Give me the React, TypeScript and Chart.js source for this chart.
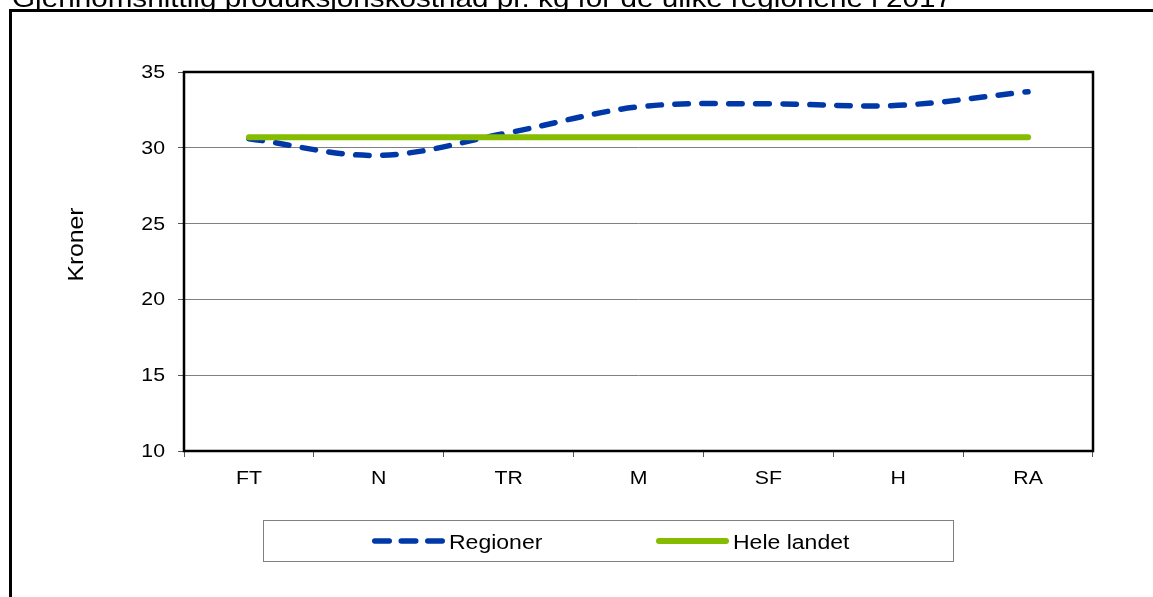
import React, { useEffect, useRef } from "react";
import { Chart, registerables } from "chart.js";

Chart.register(...registerables);

const titleText = "Gjennomsnittlig produksjonskostnad pr. kg for de ulike regionene i 2017";
const yAxisTitle = "Kroner";
const categories = ["FT", "N", "TR", "M", "SF", "H", "RA"];
const seriesLabels = ["Regioner", "Hele landet"];
const regionValues = [30.6, 29.5, 31.0, 32.7, 32.9, 32.8, 33.7];
const nationalValues = [30.7, 30.7, 30.7, 30.7, 30.7, 30.7, 30.7];
const yTickValues = [10, 15, 20, 25, 30, 35];

const BLUE = "#0038A8";
const GREEN = "#86BC00";
const STRETCH = 1.15;
const FONT = "'Liberation Sans', Arial, sans-serif";

function stretchedText(
  ctx: CanvasRenderingContext2D,
  text: string,
  x: number,
  y: number,
  size: number,
  align: CanvasTextAlign,
  baseline: CanvasTextBaseline,
  rotate = 0
) {
  ctx.save();
  ctx.translate(x, y);
  if (rotate) ctx.rotate(rotate);
  ctx.scale(STRETCH, 1);
  ctx.font = `${size}px ${FONT}`;
  ctx.fillStyle = "#000";
  ctx.textAlign = align;
  ctx.textBaseline = baseline;
  ctx.fillText(text, 0, 0);
  ctx.restore();
}

const framePlugin = {
  id: "framePlugin",
  beforeDatasetsDraw(chart: any) {
    const { ctx, chartArea } = chart;
    ctx.save();
    ctx.strokeStyle = "#000";
    ctx.lineWidth = 2.5;
    ctx.strokeRect(chartArea.left, chartArea.top, chartArea.right - chartArea.left, chartArea.bottom - chartArea.top);
    ctx.restore();
  },
  afterDraw(chart: any) {
    const { ctx } = chart;
    const xs = chart.scales.x;
    const ys = chart.scales.y;

    // title (cut at top) and outer box
    stretchedText(ctx, titleText, 12, 7, 25.8, "left", "alphabetic");
    ctx.save();
    ctx.strokeStyle = "#000";
    ctx.lineWidth = 3;
    ctx.strokeRect(10.5, 10.5, 1200, 700);
    ctx.restore();

    // y tick labels
    ys.ticks.forEach((t: any) => {
      const py = ys.getPixelForValue(t.value);
      stretchedText(ctx, String(t.value), 165, py + 1, 18.5, "right", "middle");
    });
    // x tick labels
    categories.forEach((c, i) => {
      const px = xs.getPixelForValue(i);
      stretchedText(ctx, c, px, 484, 18.5, "center", "alphabetic");
    });
    // y axis title
    stretchedText(ctx, yAxisTitle, 77, (ys.top + ys.bottom) / 2 - 17, 21.5, "center", "middle", -Math.PI / 2);

    // legend
    ctx.save();
    ctx.strokeStyle = "#808080";
    ctx.lineWidth = 1;
    ctx.strokeRect(263.5, 520.5, 690, 41);
    ctx.restore();

    const ds = chart.data.datasets;
    const items = [
      { x0: 372, x1: 445, tx: 449 },
      { x0: 656, x1: 729, tx: 733 },
    ];
    ds.forEach((d: any, i: number) => {
      const it = items[i];
      ctx.save();
      ctx.strokeStyle = d.borderColor;
      ctx.lineWidth = d.borderWidth;
      ctx.lineCap = "round";
      if (d.borderDash && d.borderDash.length) ctx.setLineDash([14.5, 12]);
      ctx.beginPath();
      ctx.moveTo(it.x0 + d.borderWidth / 2, 541);
      ctx.lineTo(it.x1 - d.borderWidth / 2, 541);
      ctx.stroke();
      ctx.restore();
      stretchedText(ctx, d.label, it.tx, 549, 20, "left", "alphabetic");
    });
  },
};

export default function App() {
  const ref = useRef<HTMLCanvasElement>(null);
  useEffect(() => {
    if (!ref.current) return;
    const chart = new Chart(ref.current, {
      type: "line",
      data: {
        labels: categories,
        datasets: [
          {
            label: seriesLabels[0],
            data: regionValues,
            borderColor: BLUE,
            backgroundColor: BLUE,
            borderWidth: 5.5,
            borderDash: [13.5, 13.5],
            borderCapStyle: "round",
            pointRadius: 0,
            tension: 0.35,
            fill: false,
            order: 1,
          },
          {
            label: seriesLabels[1],
            data: nationalValues,
            borderColor: GREEN,
            backgroundColor: GREEN,
            borderWidth: 6,
            borderCapStyle: "round",
            pointRadius: 0,
            tension: 0,
            fill: false,
            order: 0,
          },
        ],
      },
      options: {
        animation: false,
        responsive: false,
        devicePixelRatio: 1,
        layout: { padding: { top: 72, right: 60, bottom: 0, left: 0 } },
        plugins: { legend: { display: false }, tooltip: { enabled: false }, title: { display: false } },
        scales: {
          x: {
            type: "category",
            offset: true,
            grid: { offset: true, drawOnChartArea: false, drawTicks: true, tickLength: 6, tickColor: "#555", lineWidth: 1 },
            border: { display: false },
            ticks: { display: false },
            afterFit: (s: any) => {
              s.height = 146;
            },
          },
          y: {
            min: 10,
            max: 35,
            afterBuildTicks: (s: any) => {
              s.ticks = yTickValues.map((v) => ({ value: v }));
            },
            grid: { color: "#808080", lineWidth: 1, drawTicks: true, tickLength: 6, tickColor: "#555" },
            border: { display: false },
            ticks: { display: false },
            afterFit: (s: any) => {
              s.width = 184;
            },
          },
        },
      },
      plugins: [framePlugin],
    } as any);
    return () => chart.destroy();
  }, []);
  return (
    <div style={{ position: "fixed", left: 0, top: 0, width: 1153, height: 597, background: "#fff", overflow: "hidden" }}>
      <canvas ref={ref} width={1153} height={597} style={{ width: 1153, height: 597, display: "block" }} />
    </div>
  );
}
